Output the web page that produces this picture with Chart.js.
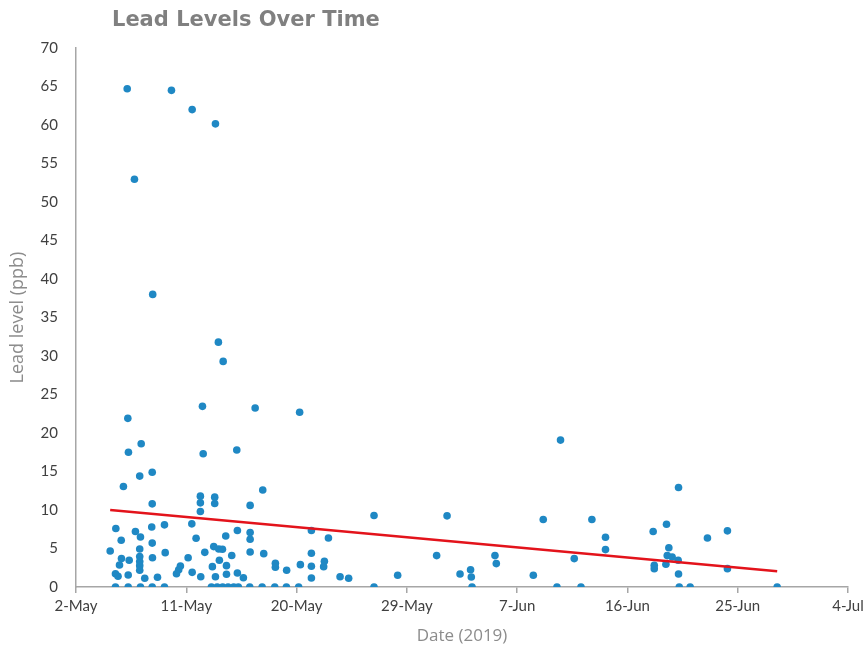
<!DOCTYPE html>
<html>
<head>
<meta charset="utf-8">
<script src="https://cdn.jsdelivr.net/npm/chart.js@4.4.1/dist/chart.umd.min.js"></script>
<style>
  html, body { margin: 0; padding: 0; background: #fff; }
  #wrap { width: 866px; height: 649px; }
</style>
</head>
<body>
<div id="wrap"><canvas id="myChart" width="866" height="649"></canvas></div>
<script>
// days after 2 May 2019, and the lead level measured that day
const days = [
    4.18, 7.79, 9.48, 11.38, 4.77, 6.26, 11.62, 12.01,
    4.23, 5.32, 4.28, 6.22, 5.2, 3.87, 6.22, 3.25, 4.85, 6.18, 7.22, 5.26,
    3.69, 6.22, 5.2, 2.79, 6.24, 7.28, 3.71, 4.34, 5.2, 5.2, 5.2, 5.2,
    3.55, 3.22, 3.43, 4.26, 5.61, 6.65,
    3.22, 4.26, 5.26, 6.22, 7.22,
    10.32, 10.38, 13.12, 10.15, 10.15, 10.15, 11.32, 11.32, 9.45, 13.17,
    9.8, 12.22, 11.24, 11.65, 11.95, 10.51, 12.71, 9.15, 11.7, 11.13, 12.28,
    8.52, 8.38, 8.2, 9.48, 10.18, 11.38, 12.28, 13.17,
    11.05, 11.52, 11.97, 12.41, 12.87, 13.25,
    14.62, 18.25, 15.24, 14.21, 14.21, 14.21, 14.21, 15.32, 16.27, 16.27,
    17.19, 18.31, 13.66,
    14.18, 15.19, 16.22, 17.17, 18.17,
    24.32, 19.21, 20.6, 19.21, 19.21, 20.27, 20.21, 19.21, 21.55, 22.25, 24.32,
    30.28, 39.54, 38.13, 42.1, 43.21, 43.21, 29.43, 34.19, 34.3, 40.66,
    26.25, 31.34, 32.2, 32.26, 37.32,
    32.32, 39.25, 41.21,
    49.17, 48.19, 47.1, 53.16, 51.53, 48.38, 48.25, 48.65, 49.14, 48.14,
    47.19, 47.19, 49.17, 53.16,
    49.23, 50.12, 57.22
];
const lead = [
    64.7, 64.5, 62.0, 60.15, 52.95, 38.0, 31.8, 29.3,
    21.9, 18.6, 17.5, 14.9, 14.4, 13.05, 10.8, 7.6, 7.2, 7.8, 8.07, 6.5,
    6.07, 5.7, 4.94, 4.68, 3.8, 4.46, 3.7, 3.47, 3.95, 3.3, 2.77, 2.17,
    2.86, 1.73, 1.4, 1.56, 1.13, 1.26,
    0, 0, 0, 0, 0,
    23.46, 17.3, 17.8, 11.8, 10.93, 9.8, 11.67, 10.84, 8.2, 7.33,
    6.33, 6.63, 5.25, 4.94, 4.9, 4.5, 4.1, 3.8, 3.47, 2.64, 2.77,
    2.73, 2.25, 1.73, 1.9, 1.34, 1.34, 1.65, 1.82,
    0, 0, 0, 0, 0, 0,
    23.25, 22.7, 12.6, 10.6, 7.07, 6.2, 4.55, 4.33, 3.08, 2.56,
    2.17, 2.9, 1.21,
    0, 0, 0, 0, 0,
    9.28, 7.33, 6.37, 4.38, 2.69, 3.34, 2.64, 1.17, 1.34, 1.13, 0,
    9.24, 19.08, 8.76, 8.76, 6.46, 4.86, 4.08, 4.08, 3.04, 3.69,
    1.52, 1.69, 2.25, 1.3, 1.52,
    0, 0, 0,
    12.92, 8.15, 7.2, 7.29, 6.37, 5.1, 4.08, 3.9, 3.47, 2.95,
    2.82, 2.38, 1.69, 2.38,
    0, 0, 0
];

// linear trend line, start and end
const trendDays = [2.79, 57.22];
const trendLead = [10.0, 2.05];

const monthNames = ['Jan', 'Feb', 'Mar', 'Apr', 'May', 'Jun', 'Jul', 'Aug', 'Sep', 'Oct', 'Nov', 'Dec'];
function dayLabel(v) {
    const d = new Date(2019, 4, 2 + Math.round(v));
    return d.getDate() + '-' + monthNames[d.getMonth()];
}

const titlePlugin = {
    id: 'leftTitle',
    afterDraw(chart) {
        const ctx = chart.ctx;
        ctx.save();
        ctx.font = 'bold 21px "DejaVu Sans"';
        ctx.fillStyle = '#808080';
        ctx.textBaseline = 'middle';
        ctx.textAlign = 'left';
        ctx.fillText('Lead Levels Over Time', 112, 21);
        ctx.restore();
    }
};

const data = {
    datasets: [
        {
            type: 'line',
            label: 'Trend',
            data: trendDays.map((d, i) => ({ x: d, y: trendLead[i] })),
            borderColor: '#e3131b',
            borderWidth: 2.5,
            pointRadius: 0,
            fill: false,
        },
        {
            type: 'scatter',
            label: 'Lead level',
            data: days.map((d, i) => ({ x: d, y: lead[i] })),
            backgroundColor: '#1f88c4',
            borderColor: '#1f88c4',
            borderWidth: 0,
            pointRadius: 3.8,
        }
    ]
};

const config = {
    type: 'scatter',
    data: data,
    options: {
        responsive: false,
        animation: false,
        layout: { padding: { top: 48, right: 18, left: 0, bottom: 0 } },
        plugins: {
            legend: { display: false },
            tooltip: { enabled: false },
            title: { display: false }
        },
        scales: {
            x: {
                type: 'linear',
                min: 0,
                max: 63,
                grid: { display: true, drawOnChartArea: false, drawTicks: true, tickLength: 6, color: '#a6a6a6', lineWidth: 1.5 },
                border: { display: true, color: '#a6a6a6', width: 1.5 },
                ticks: {
                    stepSize: 9,
                    padding: 4,
                    color: '#404040',
                    font: { family: 'Lato', size: 15 },
                    maxRotation: 0,
                    callback: (v) => dayLabel(v)
                },
                title: {
                    display: true,
                    text: 'Date (2019)',
                    color: '#8c8c8c',
                    font: { family: 'Open Sans', size: 17 },
                    padding: { top: 4, bottom: 3 }
                },
                afterFit(scale) {
                    scale.height = 62;
                    scale.paddingLeft = 0;
                    scale.paddingRight = 0;
                }
            },
            y: {
                min: 0,
                max: 70,
                grid: { display: false, drawTicks: false },
                border: { display: true, color: '#a6a6a6', width: 1.5 },
                ticks: {
                    stepSize: 5,
                    padding: 18,
                    color: '#404040',
                    font: { family: 'Lato', size: 15 }
                },
                title: {
                    display: true,
                    text: 'Lead level (ppb)',
                    color: '#8c8c8c',
                    font: { family: 'Open Sans', size: 18 },
                    padding: { top: 7, bottom: 0 }
                },
                afterFit(scale) {
                    scale.width = 76;
                }
            }
        }
    },
    plugins: [titlePlugin]
};

const myChart = new Chart(document.getElementById('myChart'), config);
</script>
</body>
</html>
